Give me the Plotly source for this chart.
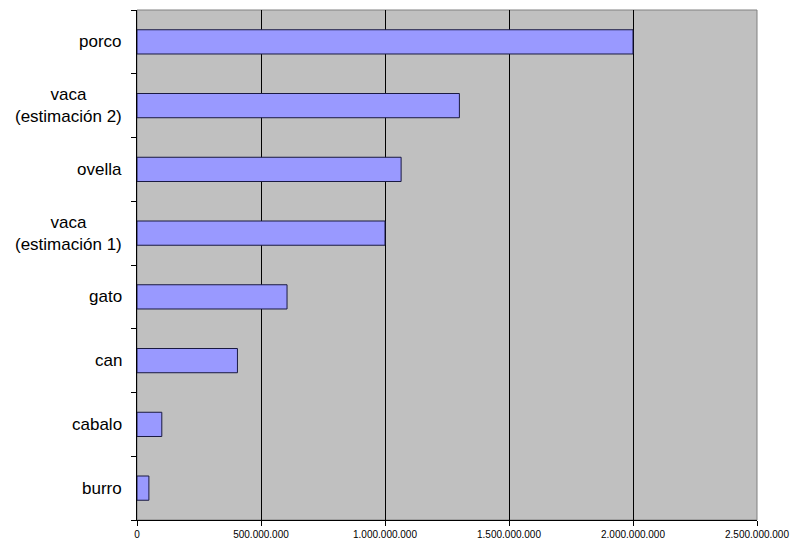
import plotly.graph_objects as go

categories = ["burro", "cabalo", "can", "gato", "vaca<br>(estimación 1)", "ovella", "vaca<br>(estimación 2)", "porco"]
values = [48_000_000, 100_000_000, 405_000_000, 605_000_000, 1_000_000_000, 1_065_000_000, 1_300_000_000, 2_000_000_000]
x_ticks = [0, 500_000_000, 1_000_000_000, 1_500_000_000, 2_000_000_000, 2_500_000_000]

fig = go.Figure()
fig.add_trace(go.Bar(
    y=categories, x=values, orientation="h",
    width=0.38,
    marker=dict(color="#9999ff", line=dict(color="#1a1a40", width=1)),
    hoverinfo="x+y",
))

for c in categories:
    fig.add_annotation(
        x=0, xref="paper", y=c, yref="y",
        text=c, showarrow=False, xanchor="right", align="center",
        xshift=-13, font=dict(family="Liberation Sans, Arial", size=17, color="black"),
    )

fig.add_shape(type="rect", xref="paper", yref="paper", x0=0, x1=1, y0=0, y1=1,
              line=dict(color="#808080", width=1), layer="below")

fig.update_layout(
    width=800, height=554,
    margin=dict(l=137, r=43, t=10, b=34),
    paper_bgcolor="white", plot_bgcolor="#c0c0c0",
    separators=",.",
    showlegend=False,
    bargap=0.6,
    font=dict(family="Liberation Sans, Arial", color="black"),
    xaxis=dict(
        range=[0, 2_500_000_000], tickvals=x_ticks, tickformat=",d",
        showgrid=True, gridcolor="black", gridwidth=1,
        showline=True, linecolor="black", linewidth=1,
        ticks="outside", ticklen=5, tickcolor="black",
        tickfont=dict(size=10), zeroline=False,
    ),
    yaxis=dict(
        categoryorder="array", categoryarray=categories,
        showticklabels=False, tickson="boundaries",
        ticks="outside", ticklen=5, tickcolor="black",
        showline=True, linecolor="black", linewidth=1,
        showgrid=False, zeroline=False,
    ),
)

fig.write_html("out.html")
